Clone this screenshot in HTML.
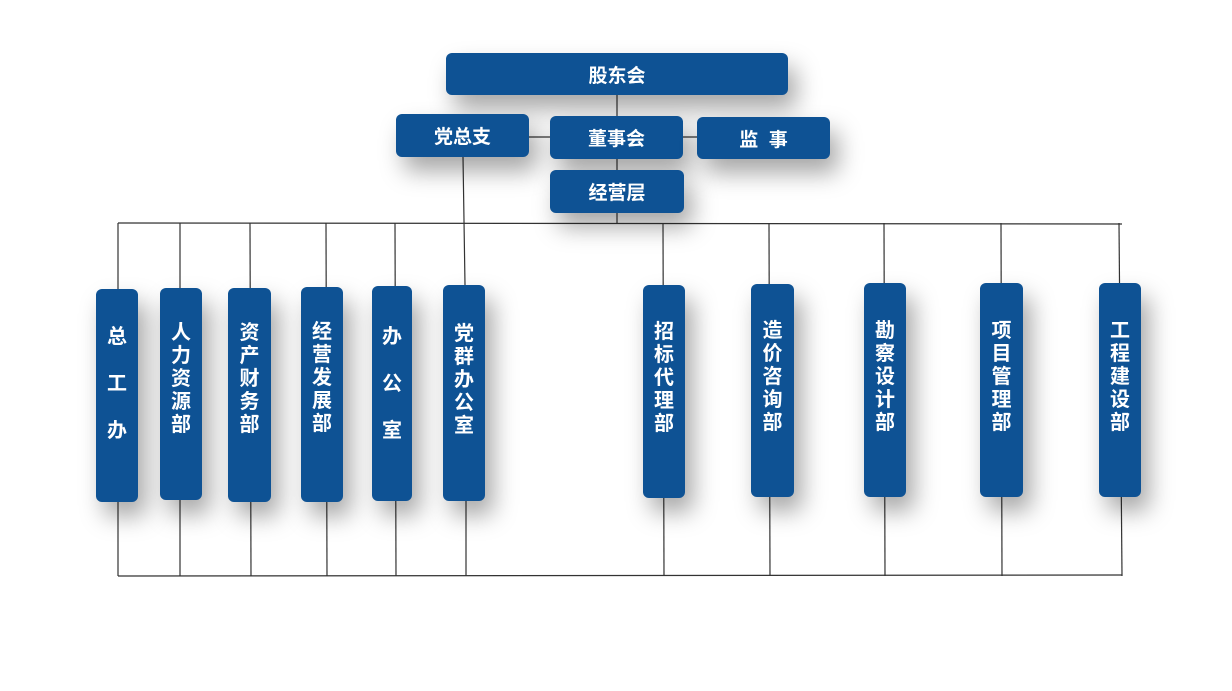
<!DOCTYPE html>
<html><head><meta charset="utf-8"><style>
body{margin:0;width:1232px;height:691px;background:#fff;position:relative;overflow:hidden;font-family:"Liberation Sans","Noto Sans CJK SC",sans-serif;}
.b{position:absolute;background:#0e5294;color:#fff;font-weight:bold;border-radius:6px;box-shadow:8px 14px 24px rgba(0,0,0,0.35);display:flex;justify-content:center;}
.h{align-items:center;font-size:19px;}
.v{font-size:20px;line-height:23px;}
.v span{display:block;width:20px;margin:34px auto 0;text-align:center;word-break:break-all;}
svg{position:absolute;left:0;top:0}
</style></head><body>
<svg width="1232" height="691"><g stroke="#333" stroke-width="1.2" fill="none">
<line x1="617" y1="95" x2="617" y2="223"/>
<line x1="529" y1="137" x2="697" y2="137"/>
<line x1="463" y1="157" x2="465" y2="285"/>
<line x1="118" y1="223" x2="1122" y2="224"/>
<line x1="118" y1="576" x2="1122" y2="575"/>
<line x1="118" y1="223" x2="118" y2="576"/>
<line x1="180" y1="223" x2="180" y2="576"/>
<line x1="250" y1="223" x2="251" y2="576"/>
<line x1="326" y1="223" x2="327" y2="576"/>
<line x1="395" y1="223" x2="396" y2="576"/>
<line x1="466" y1="285" x2="466" y2="576"/>
<line x1="663" y1="223" x2="664" y2="576"/>
<line x1="769" y1="223" x2="770" y2="576"/>
<line x1="884" y1="223" x2="885" y2="576"/>
<line x1="1001" y1="223" x2="1002" y2="576"/>
<line x1="1119" y1="223" x2="1122" y2="576"/>
</g></svg>
<div class="b h" style="left:446px;top:53px;width:342px;height:42px">股东会</div>
<div class="b h" style="left:396px;top:114px;width:133px;height:43px">党总支</div>
<div class="b h" style="left:550px;top:116px;width:133px;height:43px">董事会</div>
<div class="b h" style="left:697px;top:117px;width:133px;height:42px">监&nbsp;&nbsp;事</div>
<div class="b h" style="left:550px;top:170px;width:134px;height:43px">经营层</div>

<div class="b" style="left:96px;top:289px;width:42px;height:213px;font-size:20px;line-height:47px"><span style="width:20px;margin-top:25px;text-align:center">总<br>工<br>办</span></div>
<div class="b v" style="left:160px;top:288px;width:42px;height:212px"><span>人力资源部</span></div>
<div class="b v" style="left:228px;top:288px;width:43px;height:214px"><span>资产财务部</span></div>
<div class="b v" style="left:301px;top:287px;width:42px;height:215px"><span>经营发展部</span></div>
<div class="b" style="left:372px;top:286px;width:40px;height:215px;font-size:20px;line-height:47px"><span style="width:20px;margin-top:28px;text-align:center">办<br>公<br>室</span></div>
<div class="b v" style="left:443px;top:285px;width:42px;height:216px"><span style="margin-top:38px">党群办公室</span></div>
<div class="b v" style="left:643px;top:285px;width:42px;height:213px"><span style="margin-top:36px">招标代理部</span></div>
<div class="b v" style="left:751px;top:284px;width:43px;height:213px"><span style="margin-top:36px">造价咨询部</span></div>
<div class="b v" style="left:864px;top:283px;width:42px;height:214px"><span style="margin-top:37px">勘察设计部</span></div>
<div class="b v" style="left:980px;top:283px;width:43px;height:214px"><span style="margin-top:37px">项目管理部</span></div>
<div class="b v" style="left:1099px;top:283px;width:42px;height:214px"><span style="margin-top:37px">工程建设部</span></div>
</body></html>
